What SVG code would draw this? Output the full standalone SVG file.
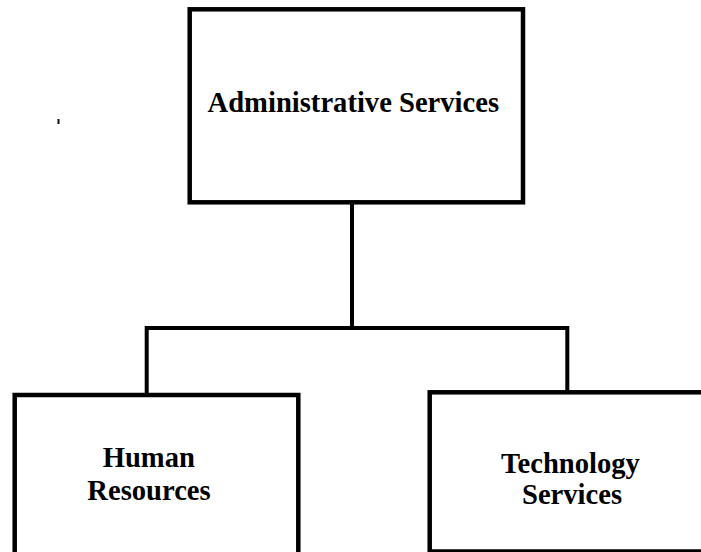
<svg xmlns="http://www.w3.org/2000/svg" width="701" height="552" viewBox="0 0 701 552">
<style>
.box{fill:#fff;stroke:#000;stroke-width:4.5}
.conn{fill:none;stroke:#000;stroke-width:4;stroke-linejoin:miter}
.lbl{font-family:"Liberation Serif","Times New Roman",serif;font-weight:bold;font-size:28.6px;fill:#000;text-anchor:middle}
</style>
<rect width="701" height="552" fill="#fff"/>
<rect x="57.5" y="119" width="2" height="5" fill="#111"/>
<g id="connectors">
<path class="conn" d="M352,204 V328"/>
<path class="conn" d="M146.7,393 V328 H567.3 V390.5"/>
</g>
<g id="administrative-services">
<rect class="box" x="189.7" y="9.3" width="333.3" height="193"/>
<text class="lbl" transform="translate(353.3,111.7) scale(1,1.06)">Administrative Services</text>
</g>
<g id="human-resources">
<rect class="box" x="14.7" y="395" width="283.6" height="200"/>
<text class="lbl" transform="translate(148.8,466.8) scale(1,1.06)">Human</text>
<text class="lbl" transform="translate(149,500) scale(1,1.06)">Resources</text>
</g>
<g id="technology-services">
<rect class="box" x="429.7" y="392.3" width="300" height="159.2"/>
<text class="lbl" transform="translate(570.5,473.2) scale(1,1.06)">Technology</text>
<text class="lbl" transform="translate(572,503.5) scale(1,1.06)">Services</text>
</g>
</svg>
